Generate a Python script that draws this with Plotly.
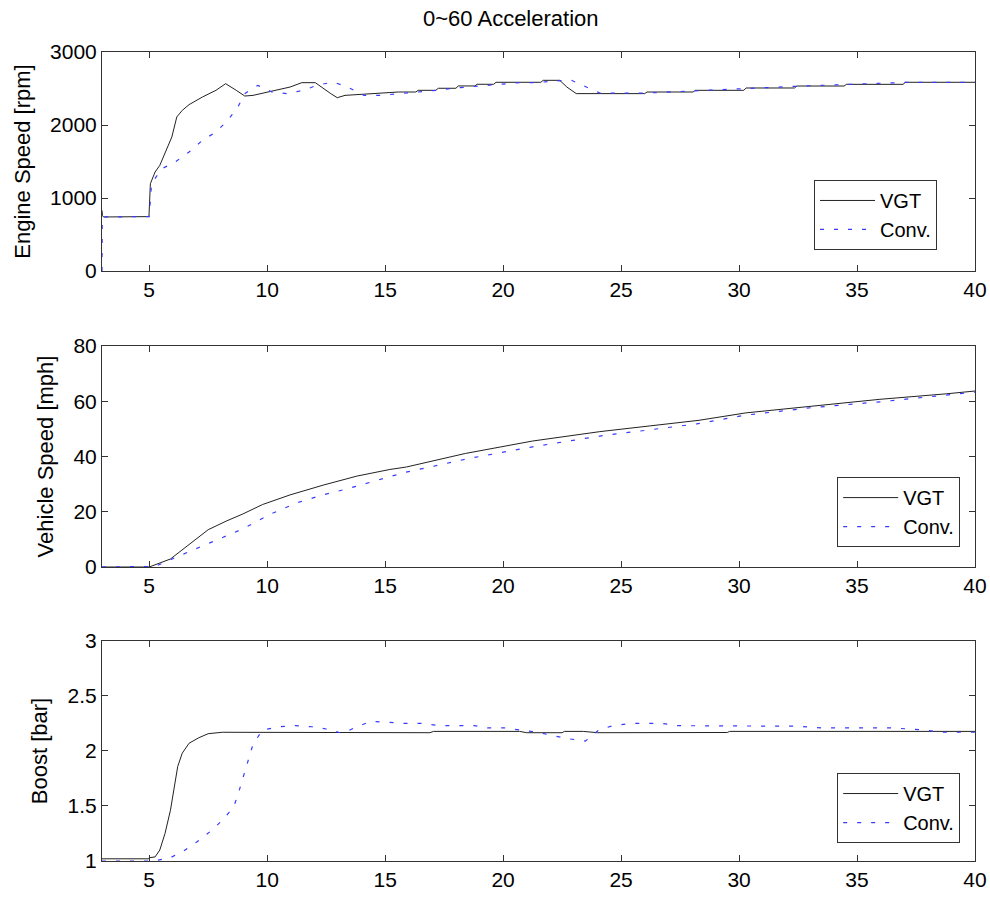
import plotly.graph_objects as go

# ---------------- data ----------------
t_eng_vgt = [3.0, 3.02, 3.06, 4.99, 5.05, 5.25, 5.45, 5.67, 5.96, 6.17, 6.4, 6.69, 7.26, 7.83, 8.24,
             8.69, 9.05, 9.4, 10.4, 10.97, 11.47, 12.04, 12.7, 12.97, 13.3, 14.4, 15.56,
             16.3, 16.4, 17.15, 17.25, 18.0, 18.1, 18.8, 18.9, 19.6, 19.7, 21.6, 21.7, 22.4,
             22.7, 23.1, 26.0, 26.1, 28.05, 28.15, 30.2, 30.3, 32.35, 32.45, 34.45, 34.55,
             36.95, 37.05, 40.0]
eng_vgt = [830, 760, 740, 745, 1196, 1356, 1447, 1607, 1836, 2110, 2200, 2279, 2384, 2475, 2566,
           2475, 2397, 2406, 2475, 2520, 2580, 2580, 2429, 2374, 2406, 2429, 2452,
           2452, 2475, 2475, 2503, 2503, 2535, 2535, 2558, 2558, 2585, 2585, 2612, 2612,
           2521, 2430, 2430, 2452, 2452, 2475, 2475, 2507, 2507, 2534, 2534, 2557,
           2557, 2585, 2585]

t_eng_conv = [3.0, 3.01, 5.0, 5.1, 5.53, 6.1, 6.69, 7.26, 7.83, 8.33, 8.76, 9.05, 9.6, 10.2,
              10.83, 11.54, 12.1, 12.8, 13.4, 14.1, 14.8, 15.83, 16.53, 17.2, 17.85, 18.55,
              19.26, 19.97, 20.68, 21.4, 22.2, 22.9, 23.5, 24.1, 26.0, 28.1, 30.3, 32.4,
              34.5, 37.0, 40.0]
eng_conv = [0, 740, 745, 1196, 1400, 1493, 1630, 1790, 1904, 2064, 2247, 2429, 2543, 2452,
            2429, 2475, 2543, 2589, 2520, 2406, 2406, 2437, 2452, 2475, 2503, 2521,
            2543, 2558, 2580, 2580, 2603, 2612, 2521, 2437, 2437, 2470, 2500, 2530,
            2555, 2583, 2585]

t_spd_vgt = [3.0, 5.0, 5.9, 7.0, 7.5, 8.26, 8.97, 9.8, 10.97, 12.4, 13.8, 15.2, 15.9, 18.4,
             21.25, 24.1, 26.9, 28.3, 30.3, 33.1, 35.97, 38.8, 40.0]
spd_vgt = [0, 0, 2.9, 10.2, 13.5, 16.6, 19.2, 22.6, 26.1, 29.7, 32.9, 35.3, 36.2, 41.1,
           45.6, 49.0, 51.9, 53.1, 55.8, 58.3, 60.7, 62.7, 63.7]

t_spd_conv = [3.0, 5.25, 6.4, 7.66, 8.97, 10.1, 11.25, 12.4, 13.4, 14.66, 15.87, 18.56, 21.25,
              24.1, 26.8, 28.2, 30.3, 33.1, 35.97, 38.8, 40.0]
spd_conv = [0, 0.2, 4.5, 9.1, 13.8, 19.0, 23.2, 26.2, 28.3, 31.4, 34.3, 39.3, 43.5,
            47.4, 50.4, 51.8, 55.0, 57.7, 59.8, 62.1, 63.3]

t_bst_vgt = [3.0, 4.98, 5.0, 5.25, 5.45, 5.67, 5.9, 6.07, 6.21, 6.4, 6.69, 7.1, 7.5, 8.1, 9.5,
             10.0, 16.9, 17.05, 20.7, 21.0, 22.5, 22.6, 23.4, 24.0, 29.5, 29.6, 40.0]
bst_vgt = [1.02, 1.02, 1.03, 1.037, 1.1, 1.25, 1.46, 1.68, 1.86, 1.98, 2.07, 2.12, 2.157, 2.17, 2.17,
           2.165, 2.166, 2.178, 2.178, 2.166, 2.166, 2.178, 2.178, 2.166, 2.168, 2.178, 2.178]

t_bst_conv = [3.0, 5.2, 5.9, 6.45, 7.0, 7.6, 8.1, 8.58, 8.8, 9.0, 9.2, 9.4, 9.8, 10.5, 11.2,
              11.9, 12.5, 13.2, 13.7, 14.4, 15.87, 16.58, 17.29, 18.0, 18.77, 19.34, 20.05,
              20.76, 21.46, 22.1, 22.81, 23.49, 24.05, 24.65, 25.36, 26.06, 26.77, 27.34,
              31.73, 32.5, 33.5, 36.47, 37.18, 37.88, 38.59, 40.0]
bst_conv = [1.0, 1.0, 1.03, 1.09, 1.17, 1.27, 1.37, 1.49, 1.63, 1.78, 1.92, 2.06, 2.19, 2.22, 2.23,
            2.22, 2.2, 2.16, 2.21, 2.27, 2.25, 2.25, 2.23, 2.23, 2.23, 2.21, 2.21,
            2.19, 2.17, 2.14, 2.11, 2.09, 2.19, 2.23, 2.25, 2.25, 2.25, 2.23,
            2.23, 2.225, 2.21, 2.21, 2.2, 2.19, 2.17, 2.17]

x_ticks = [5, 10, 15, 20, 25, 30, 35, 40]
series_names = ["VGT", "Conv."]
y_titles = ["Engine Speed [rpm]", "Vehicle Speed [mph]", "Boost [bar]"]
title_text = "0~60 Acceleration"

# ---------------- figure ----------------
FONT = "Liberation Sans, Arial, sans-serif"
vgt_line = dict(color="#222222", width=1)
conv_line = dict(color="#3a3aff", width=1.2, dash="4px,10px")

panels = [
    (t_eng_vgt, eng_vgt, t_eng_conv, eng_conv),
    (t_spd_vgt, spd_vgt, t_spd_conv, spd_conv),
    (t_bst_vgt, bst_vgt, t_bst_conv, bst_conv),
]
legend_ids = ["legend", "legend2", "legend3"]

fig = go.Figure()
for i, (tv, yv, tc, yc) in enumerate(panels):
    ax = "" if i == 0 else str(i + 1)
    fig.add_trace(go.Scatter(x=tv, y=yv, mode="lines", name=series_names[0], line=vgt_line,
                             xaxis="x" + ax, yaxis="y" + ax, legend=legend_ids[i]))
    fig.add_trace(go.Scatter(x=tc, y=yc, mode="lines", name=series_names[1], line=conv_line,
                             xaxis="x" + ax, yaxis="y" + ax, legend=legend_ids[i]))

axis_common = dict(showline=True, linecolor="#333333", linewidth=1, mirror="ticks",
                   ticks="inside", ticklen=6, tickcolor="#333333", showgrid=False,
                   zeroline=False, automargin=False,
                   tickfont=dict(family=FONT, size=21, color="black"))

domains = [[0.7293, 1.0], [0.3634, 0.6366], [0.0, 0.272]]
y_ranges = [[0, 3000], [0, 80], [1, 3]]
y_dticks = [1000, 20, 0.5]
layout = {}
for i in range(3):
    ax = "" if i == 0 else str(i + 1)
    layout["xaxis" + ax] = dict(axis_common, range=[3, 40], tickvals=x_ticks, domain=[0, 1],
                                anchor="y" + ax)
    layout["yaxis" + ax] = dict(axis_common, range=y_ranges[i], dtick=y_dticks[i],
                                domain=domains[i], anchor="x" + ax,
                                title=dict(text=y_titles[i], standoff=13,
                                           font=dict(family=FONT, size=22, color="black")))

legend_pos = [(0.9565, 0.7553), (0.983, 0.388), (0.983, 0.0222)]
legend_common = dict(bgcolor="white", bordercolor="#333333", borderwidth=1,
                     font=dict(family=FONT, size=20, color="black"),
                     xanchor="right", yanchor="bottom", itemwidth=55)
for lid, (lx, ly) in zip(legend_ids, legend_pos):
    layout[lid] = dict(legend_common, x=lx, y=ly)

fig.update_layout(**layout)
fig.update_layout(
    width=990, height=897,
    margin=dict(l=102, r=15, t=52, b=36, autoexpand=False),
    paper_bgcolor="white", plot_bgcolor="white",
    showlegend=True,
    font=dict(family=FONT, color="black"),
    annotations=[dict(text=title_text, x=0.4685, y=1.042, xref="paper", yref="paper",
                      showarrow=False, xanchor="center", yanchor="middle",
                      font=dict(family=FONT, size=22, color="black"))],
)

fig.write_html("out.html", config={"displayModeBar": False},
               post_script="document.body.style.margin='0';document.body.style.overflow='hidden';")
